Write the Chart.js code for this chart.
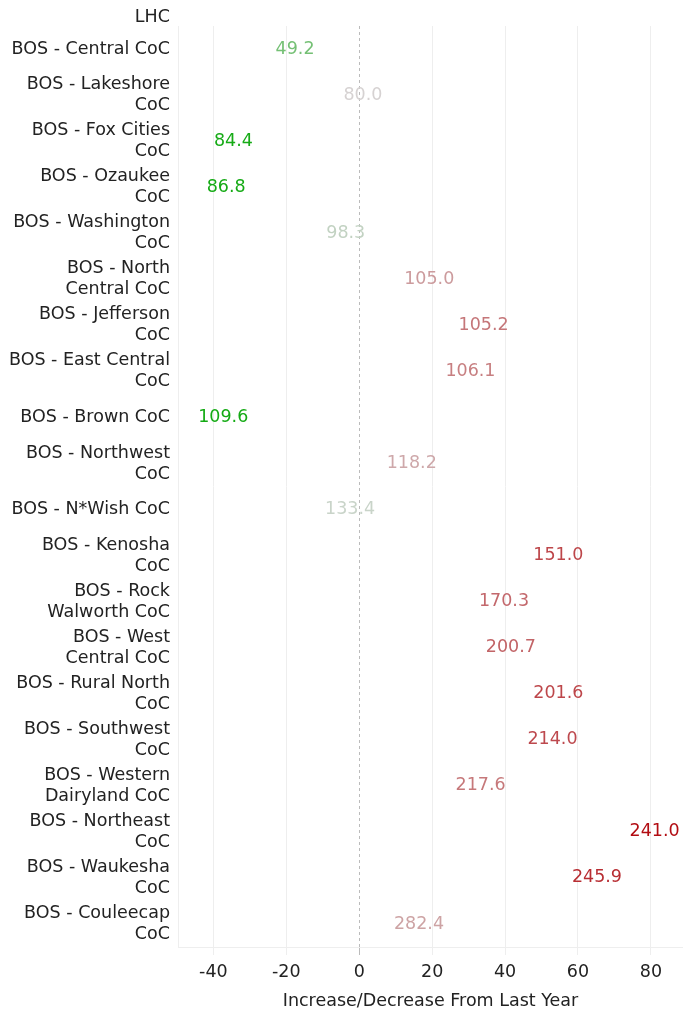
<!DOCTYPE html>
<html>
<head>
<meta charset="utf-8">
<script src="https://cdn.jsdelivr.net/npm/chart.js@4"></script>
<style>
  body { margin: 0; background: #fff; }
</style>
</head>
<body>
<canvas id="chart" width="683" height="1015"></canvas>
<script>
// categories top to bottom; LHC has no value
var categories = [
  "LHC", "BOS - Central CoC", "BOS - Lakeshore CoC", "BOS - Fox Cities CoC",
  "BOS - Ozaukee CoC", "BOS - Washington CoC", "BOS - North Central CoC",
  "BOS - Jefferson CoC", "BOS - East Central CoC", "BOS - Brown CoC",
  "BOS - Northwest CoC", "BOS - N*Wish CoC", "BOS - Kenosha CoC",
  "BOS - Rock Walworth CoC", "BOS - West Central CoC", "BOS - Rural North CoC",
  "BOS - Southwest CoC", "BOS - Western Dairyland CoC", "BOS - Northeast CoC",
  "BOS - Waukesha CoC", "BOS - Couleecap CoC"
];
// change from last year (x position)
var changes = [null, -17.6, 1.0, -34.5, -36.5, -3.7, 19.2, 34.1, 30.5, -37.3,
  14.4, -2.5, 54.6, 39.7, 41.6, 54.6, 53.0, 33.3, 81.0, 65.2, 16.4];
// value shown as text
var values = [null, 49.2, 80.0, 84.4, 86.8, 98.3, 105.0, 105.2, 106.1, 109.6,
  118.2, 133.4, 151.0, 170.3, 200.7, 201.6, 214.0, 217.6, 241.0, 245.9, 282.4];
var xTicks = [-40, -20, 0, 20, 40, 60, 80];

var FONT = "'DejaVu Sans', Verdana, sans-serif";
var SIZE = 17.5;
var TEXT = "#222";

var measureCtx = document.createElement("canvas").getContext("2d");
measureCtx.font = SIZE + "px " + FONT;

// wrap long names the way the original does (by width)
function wrap(s) {
  var words = s.split(" "), lines = [], cur = "";
  words.forEach(function (w) {
    var next = cur ? cur + " " + w : w;
    if (cur && measureCtx.measureText(next).width > 164) { lines.push(cur); cur = w; }
    else cur = next;
  });
  lines.push(cur);
  return lines;
}

function mix(a, b, t) {
  return "rgb(" + a.map(function (v, i) { return Math.round(v + (b[i] - v) * t); }).join(",") + ")";
}
function colorFor(d) {
  var grey = [215, 215, 215];
  if (d < 0) return mix(grey, [20, 170, 20], Math.min(1, -d / 35));
  return mix(grey, [178, 12, 18], Math.min(1, Math.pow(d / 81, 0.85)));
}

var points = [];
changes.forEach(function (c, i) {
  if (c !== null) points.push({ x: c, y: i, v: values[i] });
});

var textLabels = {
  id: "textLabels",
  afterDatasetsDraw: function (chart) {
    var ctx = chart.ctx;
    var meta = chart.getDatasetMeta(0);
    ctx.save();
    ctx.font = SIZE + "px " + FONT;
    ctx.textAlign = "center";
    ctx.textBaseline = "middle";
    meta.data.forEach(function (pt, i) {
      var p = points[i];
      ctx.fillStyle = colorFor(p.x);
      ctx.fillText(p.v.toFixed(1), pt.x, pt.y);
    });
    // top category sits above the plot area
    var ys = chart.scales.y;
    ctx.textAlign = "right";
    ctx.fillStyle = TEXT;
    ctx.fillText(categories[0], ys.right - 8, chart.chartArea.top - 9);
    ctx.restore();
  }
};

new Chart(document.getElementById("chart"), {
  type: "scatter",
  data: {
    datasets: [{
      data: points,
      pointRadius: 0,
      pointHoverRadius: 0
    }]
  },
  options: {
    responsive: false,
    animation: false,
    devicePixelRatio: 1,
    layout: { padding: { top: 26, right: 0, left: 0, bottom: 0 } },
    plugins: { legend: { display: false }, tooltip: { enabled: false } },
    scales: {
      x: {
        type: "linear",
        min: -49.7,
        max: 88.8,
        afterBuildTicks: function (s) { s.ticks = xTicks.map(function (v) { return { value: v }; }); },
        afterFit: function (s) { s.height = 68; },
        ticks: { font: { family: FONT, size: SIZE }, color: TEXT, padding: 7 },
        grid: {
          color: function (c) { return c.tick && c.tick.value === 0 ? "#bbb" : "#eee"; },
          tickColor: function (c) { return c.tick && c.tick.value === 0 ? "#bbb" : "#eee"; },
          tickLength: 8
        },
        border: {
          display: true,
          color: "#eee",
          dash: function (c) { return c.tick && c.tick.value === 0 ? [3, 3] : []; }
        },
        title: {
          display: true,
          text: "Increase/Decrease From Last Year",
          font: { family: FONT, size: SIZE },
          color: TEXT,
          padding: { top: 0, bottom: 3 }
        }
      },
      y: {
        type: "linear",
        reverse: true,
        min: 0.5,
        max: categories.length - 0.5,
        afterBuildTicks: function (s) {
          s.ticks = categories.slice(1).map(function (c, i) { return { value: i + 1 }; });
        },
        afterFit: function (s) { s.width = 178; },
        ticks: {
          autoSkip: false,
          font: { family: FONT, size: SIZE, lineHeight: 1.2 },
          color: TEXT,
          padding: 0,
          callback: function (v) { return wrap(categories[v]); }
        },
        grid: { display: false },
        border: { display: true, color: "#eee" }
      }
    }
  },
  plugins: [textLabels]
});
</script>
</body>
</html>
